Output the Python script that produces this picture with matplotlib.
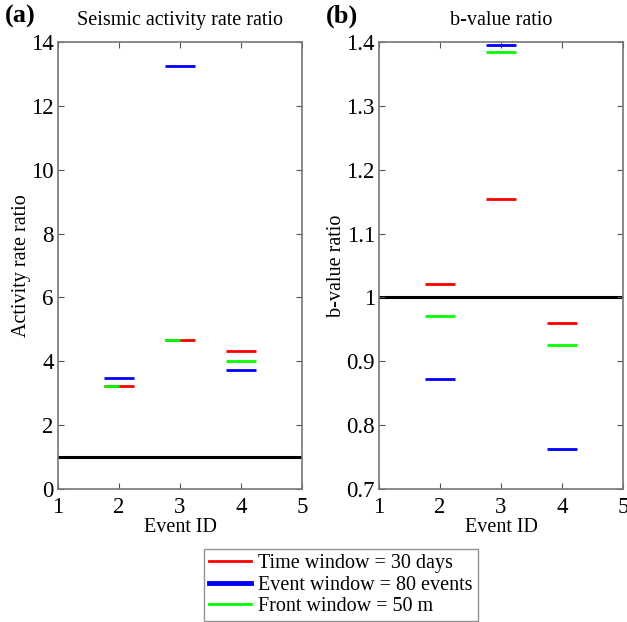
import matplotlib.pyplot as plt
from matplotlib.lines import Line2D

plt.rcParams['font.family'] = ['Liberation Serif', 'DejaVu Serif']

event_ids = [2, 3, 4]
labels = ["Time window = 30 days", "Event window = 80 events", "Front window = 50 m"]
colors = ["#ff0000", "#0000ff", "#00ff00"]

# activity rate ratio
rate_time = [3.22, 4.68, 4.33]
rate_event = [3.48, 13.25, 3.74]
rate_front = [3.22, 4.68, 4.02]

# b-value ratio
b_time = [1.021, 1.154, 0.960]
b_event = [0.873, 1.395, 0.763]
b_front = [0.971, 1.384, 0.926]

half = 0.25

fig = plt.figure(figsize=(6.27, 6.22), dpi=100)
ax1 = fig.add_axes([0.0925, 0.2138, 0.389, 0.7186])
ax2 = fig.add_axes([0.6045, 0.2138, 0.389, 0.7186])


def draw_panel(ax, series, ylim, yticks, yticklabels, title, ylabel, tag):
    ax.axhline(1, color="black", lw=2.2, zorder=1)
    for k, (vals, c) in enumerate(zip(series, colors)):
        for x, v, vr in zip(event_ids, vals, series[0]):
            x0, x1 = x - half, x + half
            # green coincides with red: only its left half shows
            if k == 2 and abs(v - vr) < 1e-9:
                x1 = x
            ax.plot([x0, x1], [v, v], color=c, lw=2,
                    solid_capstyle="butt", zorder=2)
    ax.set_xlim(1, 5)
    ax.set_ylim(*ylim)
    ax.set_xticks([1, 2, 3, 4, 5])
    ax.set_yticks(yticks)
    ax.set_yticklabels(yticklabels)
    ax.tick_params(direction="in", top=True, right=True, length=4,
                   labelsize=16.5, color="#555555")
    ax.tick_params(axis="x", pad=6)
    ax.tick_params(axis="y", pad=3)
    for s in ax.spines.values():
        s.set_color("#777777")
        s.set_linewidth(1.2)
    ax.set_title(title, fontsize=14.5, pad=12)
    ax.set_xlabel("Event ID", fontsize=14.5, labelpad=0)
    ax.set_ylabel(ylabel, fontsize=14.5, labelpad=0)
    ax.text(-0.217, 1.0425, tag, transform=ax.transAxes, fontsize=19,
            fontweight="bold", va="baseline", ha="left")


draw_panel(ax1, [rate_time, rate_event, rate_front], (0, 14),
           [0, 2, 4, 6, 8, 10, 12, 14],
           ["0", "2", "4", "6", "8", "10", "12", "14"],
           "Seismic activity rate ratio", "Activity rate ratio", "(a)")
draw_panel(ax2, [b_time, b_event, b_front], (0.7, 1.4),
           [0.7, 0.8, 0.9, 1.0, 1.1, 1.2, 1.3, 1.4],
           ["0.7", "0.8", "0.9", "1", "1.1", "1.2", "1.3", "1.4"],
           "b-value ratio", "b-value ratio", "(b)")

handles = [Line2D([], [], color=c, lw=lw) for c, lw in zip(colors, [2, 3.5, 2])]
leg = fig.legend(handles, labels, loc="upper left",
                 bbox_to_anchor=(204 / 627, 1 - 549 / 622), fontsize=14.5,
                 frameon=True, fancybox=False, handlelength=2.1,
                 handletextpad=0.35, borderpad=0.25, labelspacing=0.12,
                 borderaxespad=0)
leg.get_frame().set_edgecolor("#777777")
leg.get_frame().set_linewidth(1.0)

fig.savefig("out.png", dpi=100)
